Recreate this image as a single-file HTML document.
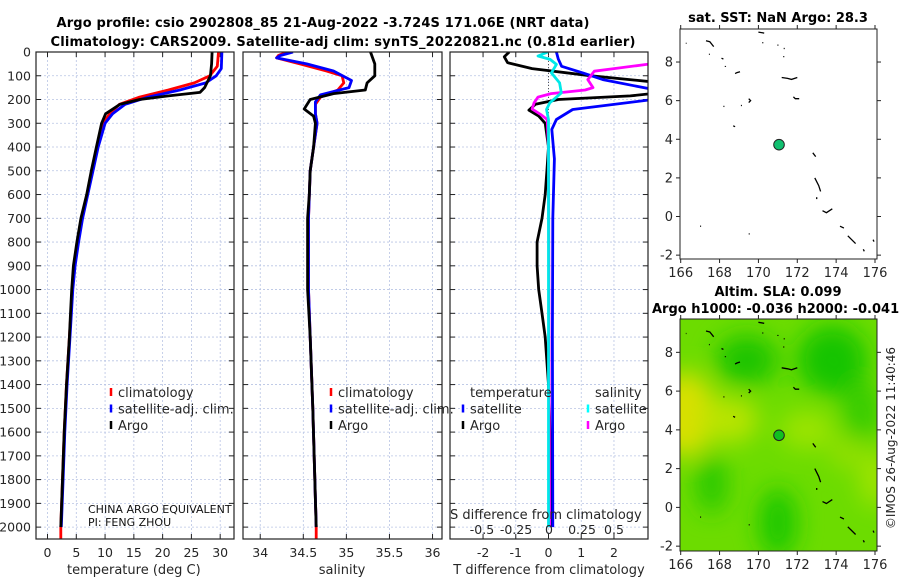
<!DOCTYPE html>
<html><head><meta charset="utf-8">
<style>
html,body{margin:0;padding:0;background:#fff;}
svg{display:block;font-family:"DejaVu Sans","Liberation Sans",sans-serif;}
</style></head>
<body>
<svg id="fig" width="900" height="580" viewBox="0 0 900 580" xmlns="http://www.w3.org/2000/svg">
<defs>
<filter id="blur" x="-50%" y="-50%" width="200%" height="200%"><feGaussianBlur stdDeviation="12"/></filter>
<clipPath id="clipT"><rect x="36" y="52" width="198" height="487"/></clipPath>
<clipPath id="clipS"><rect x="243" y="52" width="199" height="487"/></clipPath>
<clipPath id="clipD"><rect x="450" y="52" width="198" height="487"/></clipPath>
<clipPath id="clipM2"><rect x="680" y="319" width="197" height="232"/></clipPath>
</defs>
<text x="323" y="27" text-anchor="middle" font-size="13" font-weight="bold" textLength="533">Argo profile: csio 2902808_85 21-Aug-2022 -3.724S 171.06E (NRT data)</text>
<text x="343" y="46" text-anchor="middle" font-size="13" font-weight="bold" textLength="585">Climatology: CARS2009. Satellite-adj clim: synTS_20220821.nc (0.81d earlier)</text>
<text x="778" y="22" text-anchor="middle" font-size="13" font-weight="bold">sat. SST: NaN Argo: 28.3</text>
<text x="778" y="296" text-anchor="middle" font-size="13" font-weight="bold">Altim. SLA: 0.099</text>
<text x="652" y="313" font-size="13" font-weight="bold">Argo h1000: -0.036 h2000: -0.041</text>
<text transform="translate(895,438) rotate(-90)" text-anchor="middle" font-size="12" fill="#262626">©IMOS 26-Aug-2022 11:40:46</text>
<g id="layer"></g>
</svg>
<script>
// ---------- data ----------
const depthTicks=[0,100,200,300,400,500,600,700,800,900,1000,1100,1200,1300,1400,1500,1600,1700,1800,1900,2000];
const tempTicks=[0,5,10,15,20,25,30];
const salTicks=[34,34.5,35,35.5,36];
const tdiffTicks=[-2,-1,0,1,2];
const sdiffLabels=["-0.5","-0.25","0","0.25","0.5"];
const sdiffLabelX=[482,516,549,582,614];
// temperature profiles [depth, value]
const tArgo=[[0,28.6],[50,28.5],[100,28.3],[150,27.3],[170,26.5],[185,21],[200,16],[220,12.6],[260,10.1],[300,9.4],[400,8.5],[500,7.6],[600,6.8],[700,5.8],[800,5.1],[900,4.5],[1000,4.2],[1100,4.0],[1200,3.8],[1400,3.3],[1600,2.9],[1800,2.6],[2000,2.3]];
const tClim=[[0,29.7],[60,29.5],[100,28.2],[130,25.5],[160,21],[190,16],[220,12.5],[260,10.8],[300,9.6],[400,8.7],[500,7.8],[600,6.9],[700,6.0],[800,5.3],[900,4.7],[1000,4.3],[1200,3.8],[1400,3.3],[1600,2.9],[1800,2.6],[2000,2.3],[2050,2.3]];
const tSat=[[0,30.3],[70,30.2],[100,29.3],[130,27.5],[160,23],[190,17.5],[220,13.5],[260,11.3],[300,10],[400,8.8],[500,7.9],[600,7.0],[700,6.1],[800,5.4],[900,4.8],[1000,4.4],[1200,3.9],[1400,3.4],[1600,3.0],[1800,2.7],[2000,2.4]];
// salinity profiles
const sArgo=[[0,35.28],[50,35.33],[100,35.33],[130,35.24],[160,35.22],[175,34.85],[200,34.58],[240,34.51],[270,34.62],[300,34.64],[400,34.62],[500,34.58],[600,34.57],[700,34.55],[1000,34.55],[1200,34.58],[1500,34.61],[2000,34.65]];
const sClim=[[0,34.31],[15,34.21],[25,34.19],[50,34.46],[80,34.77],[100,34.95],[130,34.97],[160,34.9],[190,34.7],[220,34.64],[260,34.64],[300,34.66],[400,34.62],[500,34.58],[700,34.56],[1000,34.56],[1200,34.58],[1500,34.61],[2000,34.65],[2050,34.65]];
const sSat=[[0,34.38],[15,34.23],[25,34.19],[50,34.54],[80,34.85],[120,35.06],[150,35.03],[180,34.7],[210,34.64],[260,34.64],[300,34.66],[400,34.62],[500,34.58],[700,34.56],[1000,34.56],[1200,34.58],[1500,34.61],[2000,34.65]];
// differences from climatology
const dTArgo=[[0,-1.2],[20,-1.35],[45,-1.25],[70,-0.5],[100,1.3],[130,3.5],[170,3.5],[185,2.5],[200,0.3],[220,-0.4],[245,-0.6],[270,-0.3],[300,-0.1],[400,0],[500,-0.05],[600,-0.1],[700,-0.2],[800,-0.35],[900,-0.35],[1000,-0.3],[1100,-0.2],[1200,-0.1],[1400,0],[1600,0.05],[2000,0.05]];
const dTSat=[[0,0.24],[30,0.3],[60,0.4],[88,1.05],[116,1.66],[158,3.2],[200,3.2],[242,0.74],[284,0.24],[326,0.1],[450,0.18],[700,0.13],[1200,0.12],[2000,0.13]];
const dSArgo=[[0,0.9],[45,0.9],[52,0.75],[70,0.5],[81,0.35],[116,0.3],[150,0.34],[160,0.28],[175,0.02],[190,-0.08],[214,-0.11],[240,-0.125],[263,-0.06],[284,-0.01],[400,0],[2000,0.008]];
const dSSat=[[0,-0.005],[17,-0.08],[31,0.012],[52,0.06],[88,0.022],[130,0.085],[172,0.098],[214,0.01],[242,-0.015],[284,0],[600,0],[2000,0]];
// maps
const lonTicks=[166,168,170,172,174,176];
const latTicks=[-2,0,2,4,6,8];
const argoLon=[171.06];
const argoLat=[3.72];
const coast=[[[166.26,8.97],[166.3,8.97]],[[167.3,9.1],[167.5,9.05],[167.7,8.8]],[[167.45,8.4],[167.5,8.4]],[[168.1,8.2],[168.2,8.15]],[[168.3,7.8],[168.3,7.75]],[[168.8,7.4],[168.9,7.45],[169.05,7.5]],[[170.0,9.55],[170.3,9.5]],[[170.2,9.0],[170.25,9.0]],[[171.0,8.9],[171.0,8.85]],[[171.3,8.7],[171.35,8.7]],[[171.3,8.3],[171.3,8.25]],[[171.2,7.2],[171.5,7.15],[171.7,7.1],[172.0,7.2]],[[171.8,6.2],[171.9,6.1],[172.1,6.1]],[[169.5,6.1],[169.6,6.0],[169.5,5.9]],[[169.1,5.75],[169.15,5.75]],[[168.2,5.7],[168.25,5.7]],[[168.7,4.7],[168.8,4.65]],[[172.8,3.3],[172.95,3.1]],[[172.9,2.0],[173.1,1.6],[173.2,1.3]],[[173.0,1.0],[173.0,0.9]],[[173.3,0.3],[173.5,0.2],[173.8,0.4]],[[174.2,-0.5],[174.4,-0.6]],[[174.6,-1.0],[174.8,-1.2],[175.0,-1.4]],[[175.4,-1.7],[175.45,-1.8]],[[175.9,-1.2],[175.95,-1.3]],[[167.0,-0.5],[167.05,-0.5]],[[169.5,-0.9],[169.55,-0.9]]];
// SLA colour blobs [lon, lat, rx(deg), ry(deg), colour]
const slaBlobs=[[166.2,4.8,1.6,2.2,"#d8e000"],[168.5,4.5,1.5,1.2,"#b8e400"],[169.4,7.6,1.6,1.3,"#1ec400"],[173.8,7.6,1.8,1.8,"#18c400"],[171.0,-0.8,1.0,1.8,"#1ec800"],[167.6,1.2,0.8,1.5,"#26c800"],[175.3,5.0,1.0,1.5,"#38cc00"],[172.5,4.0,1.4,1.0,"#9ce400"],[176,1.5,0.8,1.5,"#a0e400"],[174.5,2.8,0.8,0.8,"#96e000"]];

// ---------- drawing helpers ----------
const NS="http://www.w3.org/2000/svg";
const layer=document.getElementById('layer');
function mk(tag,attrs,parent){const e=document.createElementNS(NS,tag);for(const k in attrs)e.setAttribute(k,attrs[k]);(parent||layer).appendChild(e);return e;}
const TOP=52,BOT=539,DMAX=2050;
function yD(d){return TOP+d*(BOT-TOP)/DMAX;}
function lin(d0,d1,p0,p1){return v=>p0+(v-d0)*(p1-p0)/(d1-d0);}
const xT=lin(-2,32.4,36,234);
const xS=lin(33.8,36.11,243,442);
const xDT=lin(-3.01,3.04,450,648);
const xDS=v=>xDT(v*4);

function panel(name,x0,x1,xticks,xf,clip){
  const g=mk('g',{});
  
  
  mk('rect',{x:x0,y:TOP,width:x1-x0,height:BOT-TOP,fill:'#fff'},g);
  depthTicks.forEach(d=>{const l=mk('line',{x1:x0,x2:x1,y1:yD(d),y2:yD(d),stroke:'#b8c4e4','stroke-width':0.8,'stroke-dasharray':'2,2'},g);
    
    mk('line',{x1:x0,x2:x0+5,y1:yD(d),y2:yD(d),stroke:'#222'},g);mk('line',{x1:x1-5,x2:x1,y1:yD(d),y2:yD(d),stroke:'#222'},g);});
  xticks.forEach(t=>{const x=xf(t);const l=mk('line',{x1:x,x2:x,y1:TOP,y2:BOT,stroke:'#b8c4e4','stroke-width':0.8,'stroke-dasharray':'2,2'},g);
    
    mk('line',{x1:x,x2:x,y1:BOT-5,y2:BOT,stroke:'#222'},g);mk('line',{x1:x,x2:x,y1:TOP,y2:TOP+5,stroke:'#222'},g);});
  const pg=mk('g',{'clip-path':'url(#'+clip+')'},g);
  
  
  return {g,pg,x0,x1};
}
function series(p,data,xf,color,name,w){
  const d=data.map((q,i)=>(i?'L':'M')+xf(q[1]).toFixed(1)+','+yD(q[0]).toFixed(1)).join('');
  const e=mk('path',{d:d,fill:'none',stroke:color,'stroke-width':w||2.8,'stroke-linejoin':'round'},p.pg);
  
  
}
function frame(p){mk('rect',{x:p.x0,y:TOP,width:p.x1-p.x0,height:BOT-TOP,fill:'none',stroke:'#222','stroke-width':1.2},p.g);}
function txt(x,y,s,attrs,name){const e=mk('text',Object.assign({x:x,y:y,'font-size':12.5,fill:'#262626'},attrs||{}));e.textContent=s;
  return e;}

// ---------- panel 1: temperature ----------
const p1=panel('temperature-panel',36,234,tempTicks,xT,'clipT');
series(p1,tClim,xT,'#ff0000','temp-climatology-line');
series(p1,tSat,xT,'#0000ff','temp-satellite-line');
series(p1,tArgo,xT,'#000000','temp-argo-line');
frame(p1);
depthTicks.forEach(d=>txt(31,yD(d)+4.5,String(d),{'text-anchor':'end'},'depth-tick-label'));
tempTicks.forEach(t=>txt(xT(t),557,String(t),{'text-anchor':'middle'},'temp-tick-label'));
txt(xT(15),574,'temperature (deg C)',{'text-anchor':'middle','font-size':13},'temp-axis-title');

// ---------- panel 2: salinity ----------
const p2=panel('salinity-panel',243,442,salTicks,xS,'clipS');
series(p2,sClim,xS,'#ff0000','sal-climatology-line');
series(p2,sSat,xS,'#0000ff','sal-satellite-line');
series(p2,sArgo,xS,'#000000','sal-argo-line');
frame(p2);
salTicks.forEach(t=>txt(xS(t),557,String(t),{'text-anchor':'middle'},'sal-tick-label'));
txt(xS(34.95),574,'salinity',{'text-anchor':'middle','font-size':13},'sal-axis-title');

// ---------- panel 3: differences ----------
const p3=panel('difference-panel',450,648,tdiffTicks,xDT,'clipD');
mk('line',{x1:xDT(0),x2:xDT(0),y1:TOP,y2:yD(300),stroke:'#555','stroke-dasharray':'1,2'},p3.pg);
series(p3,dTArgo,xDT,'#000000','tdiff-argo-line');
series(p3,dTSat,xDT,'#0000ff','tdiff-satellite-line');
series(p3,dSArgo,xDS,'#ff00ff','sdiff-argo-line');
series(p3,dSSat,xDS,'#00e8e8','sdiff-satellite-line');
frame(p3);
tdiffTicks.forEach(t=>txt(xDT(t),557,String(t),{'text-anchor':'middle'},'tdiff-tick-label'));
txt(549,574,'T difference from climatology',{'text-anchor':'middle','font-size':13},'tdiff-axis-title');
txt(450,519,'S difference from climatology',{'font-size':13},'sdiff-axis-title');
sdiffLabels.forEach((s,i)=>txt(sdiffLabelX[i],534,s,{'text-anchor':'middle'},'sdiff-tick-label'));

// ---------- legends ----------
function legend(name,x,y0,items){
  const g=mk('g',{});
  
  
  items.forEach((it,i)=>{const y=y0+i*16.5;
    if(it[1]) mk('line',{x1:x,x2:x,y1:y-9,y2:y-1,stroke:it[1],'stroke-width':2.5},g);
    const e=mk('text',{x:x+7,y:y,'font-size':13,fill:'#262626'},g);e.textContent=it[0];
    });
}
legend('temp-legend',111,397,[['climatology','#f00'],['satellite-adj. clim.','#00f'],['Argo','#000']]);
legend('sal-legend',331,397,[['climatology','#f00'],['satellite-adj. clim.','#00f'],['Argo','#000']]);
legend('tdiff-legend',463,397,[['temperature',null],['satellite','#00f'],['Argo','#000']]);
legend('sdiff-legend',588,397,[['salinity',null],['satellite','#0ff'],['Argo','#f0f']]);
txt(88,513,'CHINA ARGO EQUIVALENT',{'font-size':11,fill:'#111'},'pi-institution-note');
txt(88,526,'PI: FENG ZHOU',{'font-size':11,fill:'#111'},'pi-name-note');

// ---------- maps ----------
function mapAxes(name,y0,y1,latTop,latBot,bg){
  const lx=lin(166,176,680.7,875),ly=lin(latTop,latBot,y0,y1);
  const g=mk('g',{});
  
  
  mk('rect',{x:680,y:y0,width:197,height:y1-y0,fill:'#fff'},g);
  if(bg) bg(g,lx,ly);
  coast.forEach(seg=>{const e=mk('polyline',{points:seg.map(p=>lx(p[0]).toFixed(1)+','+ly(p[1]).toFixed(1)).join(' '),fill:'none',stroke:'#000','stroke-width':1.3},g);
    });
  argoLon.forEach((lo,i)=>{const c=mk('circle',{cx:lx(lo),cy:ly(argoLat[i]),r:5.3,fill:bg?'#10c020':'#10c070',stroke:'#222','stroke-width':1},g);
    });
  mk('rect',{x:680,y:y0,width:197,height:y1-y0,fill:'none',stroke:'#222','stroke-width':1},g);
  lonTicks.forEach(t=>{mk('line',{x1:lx(t),x2:lx(t),y1:y1,y2:y1+4,stroke:'#222'},g);mk('line',{x1:lx(t),x2:lx(t),y1:y0,y2:y0-4,stroke:'#222'},g);
    txt(lx(t),y1+18,String(t),{'text-anchor':'middle','font-size':13},'lon-tick-label');});
  latTicks.forEach(t=>{mk('line',{x1:676,x2:680,y1:ly(t),y2:ly(t),stroke:'#222'},g);mk('line',{x1:877,x2:881,y1:ly(t),y2:ly(t),stroke:'#222'},g);
    txt(673,ly(t)+4.5,String(t),{'text-anchor':'end','font-size':13},'lat-tick-label');});
}
mapAxes('sst-map',29,259,9.71,-2.2,null);
mapAxes('sla-map',319,551,9.72,-2.25,function(g,lx,ly){
  const cg=mk('g',{'clip-path':'url(#clipM2)'},g);
  mk('rect',{x:680,y:319,width:197,height:232,fill:'#6cdc00'},cg);
  const bg=mk('g',{filter:'url(#blur)'},cg);
  slaBlobs.forEach(b=>{const e=mk('ellipse',{cx:lx(b[0]),cy:ly(b[1]),rx:b[2]*19.4,ry:b[3]*19.3,fill:b[4]},bg);
    });
});
</script>
</body></html>
